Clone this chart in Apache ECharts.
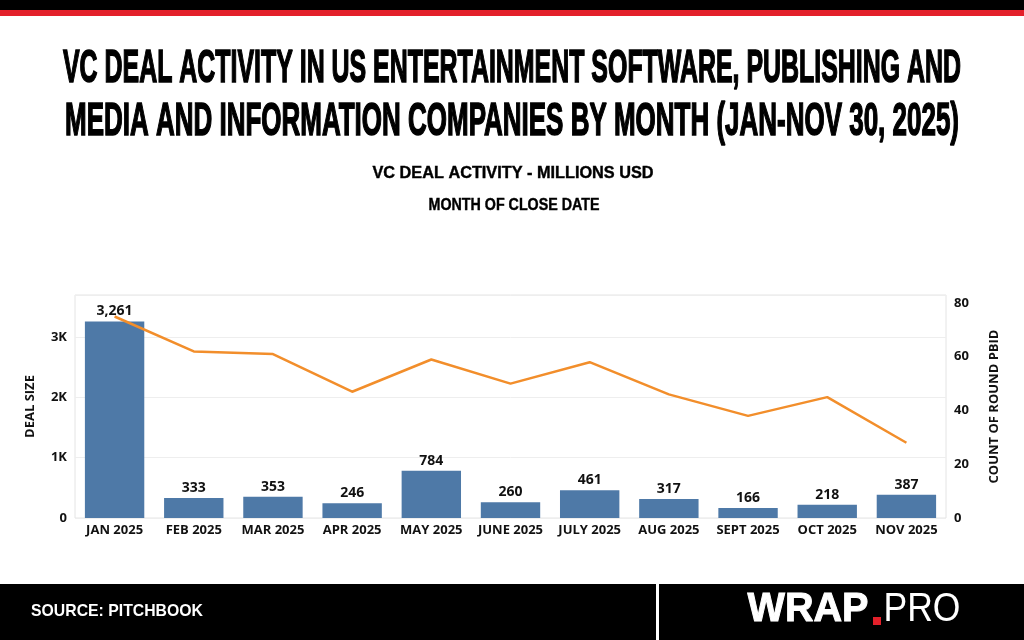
<!DOCTYPE html>
<html>
<head>
<meta charset="utf-8">
<script src="https://cdn.jsdelivr.net/npm/echarts@6/dist/echarts.min.js"></script>
<style>
  html, body { margin: 0; padding: 0; background: #fff; }
  #chart { width: 1024px; height: 640px; }
</style>
</head>
<body>
<div id="chart"></div>
<script>
// data
var months = ['JAN 2025', 'FEB 2025', 'MAR 2025', 'APR 2025', 'MAY 2025', 'JUNE 2025',
              'JULY 2025', 'AUG 2025', 'SEPT 2025', 'OCT 2025', 'NOV 2025'];
var dealSize = [3261, 333, 353, 246, 784, 260, 461, 317, 166, 218, 387];
var dealCount = [75, 62, 61, 47, 59, 50, 58, 46, 38, 45, 28];
var leftTickLabels = { 0: '0', 1000: '1K', 2000: '2K', 3000: '3K' };
var rightTicks = [0, 20, 40, 60, 80];

var titleLines = [
    'VC DEAL ACTIVITY IN US ENTERTAINMENT SOFTWARE, PUBLISHING AND',
    'MEDIA AND INFORMATION COMPANIES BY MONTH (JAN-NOV 30, 2025)'
];

var narrow = "'Liberation Sans Narrow', 'Liberation Sans', sans-serif";
var sans = "'Open Sans', 'Noto Sans', sans-serif";

// squeeze a text so it spans the wanted width
var measureCtx = document.createElement('canvas').getContext('2d');
function fitScale(text, font, width) {
    measureCtx.font = font;
    return width / measureCtx.measureText(text).width;
}

function squeezed(text, font, cx, cy, width, color, align, heavy) {
    var el = {
        type: 'text',
        x: cx,
        y: cy,
        scaleX: fitScale(text, font, width),
        silent: true,
        style: {
            text: text,
            font: font,
            fill: color || '#000',
            textAlign: align || 'center',
            textVerticalAlign: 'middle'
        }
    };
    if (heavy) {
        // thicker strokes, closer to the poster face of the original
        el.style.stroke = color || '#000';
        el.style.lineWidth = heavy;
    }
    return el;
}

var titleFont = 'bold 47px ' + narrow;
var subFont = 'bold 16px ' + narrow;
var wrapFont = 'bold 41px ' + narrow;
var proFont = 'normal 41px ' + narrow;

var chartDom = document.getElementById('chart');
var myChart = echarts.init(chartDom);
var option;

option = {
    backgroundColor: '#fff',
    animation: false,
    graphic: [
        // top stripe
        { type: 'rect', shape: { x: 0, y: 0, width: 1024, height: 10 }, style: { fill: '#000' } },
        { type: 'rect', shape: { x: 0, y: 10, width: 1024, height: 6 }, style: { fill: '#e3202a' } },
        squeezed(titleLines[0], titleFont, 512, 69, 898, '#000', 'center', 1.6),
        squeezed(titleLines[1], titleFont, 512, 122, 894, '#000', 'center', 1.6),
        squeezed('VC DEAL ACTIVITY - MILLIONS USD', subFont, 513, 174, 281, '#000', 'center', 0.4),
        squeezed('MONTH OF CLOSE DATE', subFont, 514, 206, 171, '#000', 'center', 0.4),
        // footer
        { type: 'rect', shape: { x: 0, y: 584, width: 1024, height: 56 }, style: { fill: '#000' } },
        { type: 'rect', shape: { x: 656, y: 584, width: 3, height: 56 }, style: { fill: '#fff' } },
        squeezed('SOURCE: PITCHBOOK', 'bold 17px ' + narrow, 31, 611, 172, '#fff', 'left'),
        squeezed('WRAP', wrapFont, 808, 610, 121, '#fff', 'center', 1),
        { type: 'rect', shape: { x: 873, y: 617, width: 8, height: 8 }, style: { fill: '#e3202a' } },
        squeezed('PRO', proFont, 922, 610, 77, '#fff')
    ],
    grid: {
        left: 75,
        right: 78,
        top: 295,
        height: 223,
        show: true,
        borderColor: '#e4e4e4',
        borderWidth: 1
    },
    xAxis: {
        type: 'category',
        data: months,
        axisLine: { show: false },
        axisTick: { show: false },
        axisLabel: {
            color: '#111',
            fontFamily: sans,
            fontWeight: 'bold',
            fontSize: 13,
            margin: 6,
            interval: 0
        }
    },
    yAxis: [
        {
            type: 'value',
            min: 0,
            max: 3700,
            interval: 1000,
            name: 'DEAL SIZE',
            nameLocation: 'middle',
            nameGap: 38,
            nameRotate: 90,
            nameTextStyle: { color: '#111', fontFamily: sans, fontWeight: 'bold', fontSize: 13 },
            axisLine: { show: false },
            axisTick: { show: false },
            axisLabel: {
                color: '#111',
                fontFamily: sans,
                fontWeight: 'bold',
                fontSize: 13,
                margin: 8,
                showMaxLabel: false,
                formatter: function (v) { return leftTickLabels[v] !== undefined ? leftTickLabels[v] : ''; }
            },
            splitLine: { lineStyle: { color: '#eeeeee' } }
        },
        {
            type: 'value',
            min: 0,
            max: 83,
            interval: 20,
            position: 'right',
            name: 'COUNT OF ROUND PBID',
            nameLocation: 'middle',
            nameGap: 42,
            nameRotate: 90,
            nameTextStyle: { color: '#111', fontFamily: sans, fontWeight: 'bold', fontSize: 13 },
            axisLine: { show: false },
            axisTick: { show: false },
            axisLabel: {
                color: '#111',
                fontFamily: sans,
                fontWeight: 'bold',
                fontSize: 13,
                margin: 8,
                showMaxLabel: false,
                formatter: function (v) { return rightTicks.indexOf(v) >= 0 ? String(v) : ''; }
            },
            splitLine: { show: false }
        }
    ],
    series: [
        {
            name: 'Deal size',
            type: 'bar',
            yAxisIndex: 0,
            barWidth: '75%',
            itemStyle: { color: '#4e79a7' },
            label: {
                show: true,
                position: 'top',
                distance: 3,
                color: '#111',
                fontFamily: sans,
                fontWeight: 'bold',
                fontSize: 14,
                formatter: function (p) { return p.value.toLocaleString('en-US'); }
            },
            data: dealSize
        },
        {
            name: 'Count of round',
            type: 'line',
            yAxisIndex: 1,
            showSymbol: false,
            symbol: 'none',
            lineStyle: { color: '#f28e2b', width: 2.5 },
            itemStyle: { color: '#f28e2b' },
            z: 5,
            data: dealCount
        }
    ]
};

option && myChart.setOption(option);
</script>
</body>
</html>
